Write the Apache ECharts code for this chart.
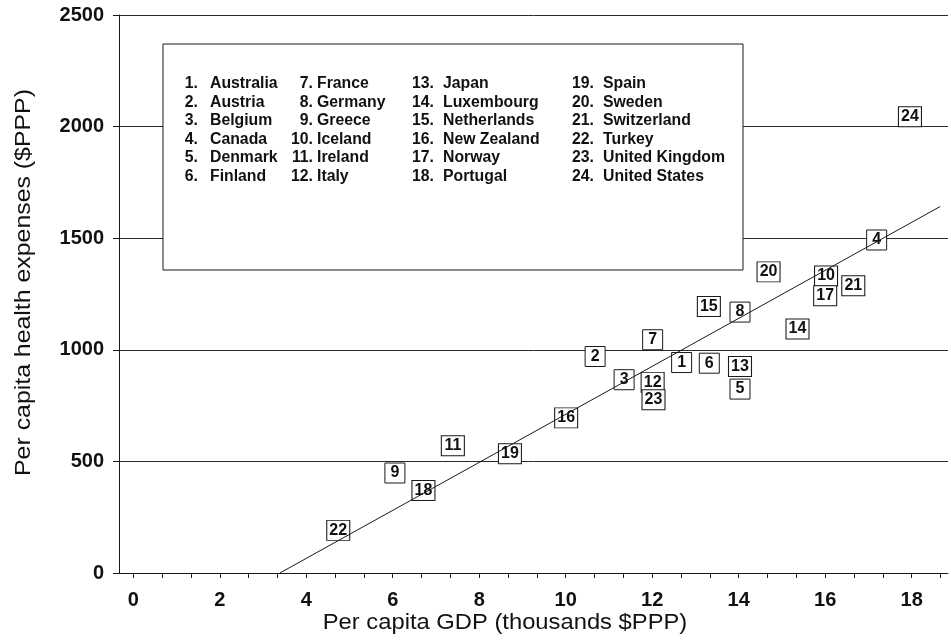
<!DOCTYPE html>
<html>
<head>
<meta charset="utf-8">
<script src="https://cdn.jsdelivr.net/npm/echarts@6/dist/echarts.min.js"></script>
<style>
html,body{margin:0;padding:0;background:#fff;}
#chart{width:951px;height:642px;}
</style>
</head>
<body>
<div id="chart"></div>
<script>
// ---- data ----
const countries = ['Australia','Austria','Belgium','Canada','Denmark','Finland',
  'France','Germany','Greece','Iceland','Ireland','Italy',
  'Japan','Luxembourg','Netherlands','New Zealand','Norway','Portugal',
  'Spain','Sweden','Switzerland','Turkey','United Kingdom','United States'];
const gdp = [12.68, 10.68, 11.35, 17.19, 14.03, 13.32, 12.01, 14.03, 6.05, 16.02, 7.39, 12.01,
  14.03, 15.36, 13.31, 10.01, 16.0, 6.71, 8.71, 14.69, 16.65, 4.74, 12.03, 17.96];
const health = [943, 970, 866, 1492, 824, 940, 1045, 1169, 448, 1331, 570, 854,
  925, 1093, 1194, 695, 1242, 370, 534, 1349, 1287, 191, 776, 2044];
const fitX = [3.39, 18.66];
const fitY = [0, 1642];
const xLabels = [0, 2, 4, 6, 8, 10, 12, 14, 16, 18];
const yLabels = [0, 500, 1000, 1500, 2000, 2500];

// minor tick marks every 2/3 unit
const xTicks = [];
for (let i = 0; i <= 28; i++) xTicks.push(+(i * 2 / 3).toFixed(4));

const FONT = '"Liberation Sans", Arial, Helvetica, sans-serif';
const chart = echarts.init(document.getElementById('chart'), null, {renderer: 'canvas'});

const pts = gdp.map((g, i) => [g, health[i], String(i + 1)]);
const fitData = fitX.map((x, i) => [x, fitY[i]]);

// legend box texts
const legendCols = [
  {numRight: 198, nameLeft: 210},
  {numRight: 313, nameLeft: 317},
  {numRight: 434, nameLeft: 443},
  {numRight: 594, nameLeft: 603}
];
const rowTop = 83.5, rowStep = 18.65;
const graphics = [{
  type: 'rect', z: 10,
  shape: {x: 163, y: 44, width: 580, height: 226},
  style: {fill: '#fff', stroke: '#1a1a1a', lineWidth: 1}
}];
countries.forEach((name, i) => {
  const c = Math.floor(i / 6), r = i % 6;
  const y = rowTop + r * rowStep;
  const txtStyle = {font: 'bold 15.8px ' + FONT, fill: '#111', textVerticalAlign: 'middle'};
  graphics.push({type: 'text', z: 11, x: legendCols[c].numRight, y: y,
    style: Object.assign({text: (i + 1) + '.', textAlign: 'right'}, txtStyle)});
  graphics.push({type: 'text', z: 11, x: legendCols[c].nameLeft, y: y,
    style: Object.assign({text: name, textAlign: 'left'}, txtStyle)});
});
// axis titles
graphics.push({type: 'text', z: 11, x: 505, y: 623, scaleX: 1.08,
  style: {text: 'Per capita GDP (thousands $PPP)', font: '22px ' + FONT, fill: '#111',
    textAlign: 'center', textVerticalAlign: 'middle'}});
graphics.push({type: 'text', z: 11, x: 24, y: 282.5, rotation: Math.PI / 2, scaleX: 1.13,
  style: {text: 'Per capita health expenses ($PPP)', font: '22px ' + FONT, fill: '#111',
    textAlign: 'center', textVerticalAlign: 'middle'}});

const lineCol = '#1a1a1a';
chart.setOption({
  animation: false,
  backgroundColor: '#fff',
  grid: {left: 119, right: 3, top: 15, bottom: 69, containLabel: false},
  xAxis: {
    type: 'value', min: -0.33, max: 18.84,
    axisLine: {show: true, onZero: false, lineStyle: {color: lineCol, width: 1}},
    axisTick: {show: true, length: 5, inside: false, customValues: xTicks, lineStyle: {color: lineCol, width: 1}},
    axisLabel: {customValues: xLabels, margin: 17, fontSize: 20, fontWeight: 'bold', fontFamily: FONT, color: '#111',
      formatter: (v) => String(v)},
    splitLine: {show: false}
  },
  yAxis: {
    type: 'value', min: 0, max: 2500, interval: 500,
    axisLine: {show: true, onZero: false, lineStyle: {color: lineCol, width: 1}},
    axisTick: {show: true, length: 6, inside: false, lineStyle: {color: lineCol, width: 1}},
    axisLabel: {customValues: yLabels, margin: 15, fontSize: 20, fontWeight: 'bold', fontFamily: FONT, color: '#111',
      formatter: (v) => String(v)},
    splitLine: {show: true, lineStyle: {color: '#2a2a2a', width: 1}}
  },
  graphic: graphics,
  series: [
    {
      type: 'scatter', data: pts, z: 3,
      symbol: 'rect',
      symbolSize: (v) => v[2].length > 1 ? [23, 20] : [20, 20],
      itemStyle: {color: '#fff', borderColor: '#1a1a1a', borderWidth: 1, opacity: 1},
      label: {show: true, position: 'inside', formatter: (p) => p.value[2],
        fontSize: 16, fontWeight: 'bold', fontFamily: FONT, color: '#111'}
    },
    {
      type: 'line', data: fitData, z: 4, showSymbol: false, silent: true,
      lineStyle: {color: '#1a1a1a', width: 1}
    }
  ]
});
</script>
</body>
</html>
